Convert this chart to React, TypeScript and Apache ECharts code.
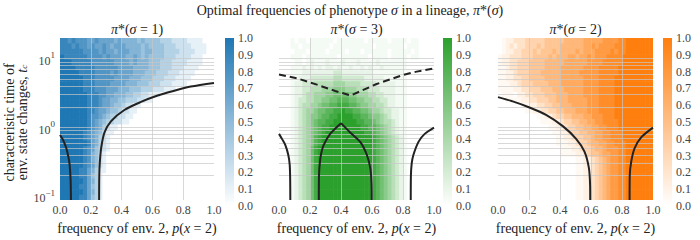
import React, { useEffect, useRef } from 'react';
import * as echarts from 'echarts';

const FONT = "'Liberation Serif', 'DejaVu Serif', serif";

// axis ranges / ticks
const P_MIN = 0;
const P_MAX = 1;
const P_STEP = 0.2;
const T_MIN = 0.0885;
const T_MAX = 20;
const CB_STEP = 0.1;
const GRID_P = [0.2, 0.4, 0.6, 0.8];
const GRID_T = [0.2, 0.3, 0.4, 0.5, 0.6, 0.7, 0.8, 0.9, 1, 2, 3, 4, 5, 6, 7, 8, 9, 10];
const N_COLS = 40;

const PANEL_SIGMA = ['1', '3', '2'];
const COLORS = ['#1f77b4', '#2ca02c', '#ff7f0e'];

// heat-map intensities, rows from top (t_c = 20) to bottom (t_c = 0.09); '.' = 0.05, digit d = d/9
const sigma1Rows = [
  '8878777667 6666565555 4544443332 2221111000',
  '8887877676 6765666555 5454444333 2222111100',
  '8888887777 6766566655 5455444333 3222211100',
  '9888888777 7676666556 5454444333 2222111000',
  '9998888877 7777666656 5554443332 2221111000',
  '9999888887 7777766665 5554443332 2211110000',
  '9999988887 7776766665 5544433322 2111100000',
  '9999998887 7777666655 5444333222 1111000000',
  '9999998887 7776666555 4443332221 1110000000',
  '9999998887 7766655544 4333222111',
  '9999999888 7766555443 3221110000',
  '9999999888 7665544333 2211',
  '9999999888 7665443221 1',
  '9999999887 6654432211',
  '9999999877 6543322110',
  '9999999876 54332211',
  '9999999876 53211',
  '9999998765 4211',
  '9999998765 321',
  '9999999865 321',
  '9999998764 321',
  '9999998754 21',
  '9999998754 21',
  '9999998764 21',
  '9999988653 11',
  '9999988643 1',
  '9999998653 1',
  '9999988643 1',
  '9999998653 1',
  '9999988643 1',
];

const sigma3Rows = [
  '000.0..0.. ....0..... ..0.....0. ...0..0000',
  '000..0.... ...0...... ....0..... ..0...0000',
  '0000...0.. ..0....0.. .0......0. ....0.0000',
  '000...0... .....0.... ...0....0. ...0..0000',
  '0000..0.1. ..1...1... 1....1.... ...0000000',
  '000...1.1. 1.11.1..1. .1.1..1... ...0000000',
  '000...1111 1111221111 1111...... ..00000000',
  '000..11122 2222332222 2211111... ...0000000',
  '000.112223 3333444333 3222211111 ...0000000',
  '000.112233 3444555444 3332221111 ...0000000',
  '000.112334 4455666655 4443322111 ...0000000',
  '000.122334 4556677766 5544332211 ...0000000',
  '000.123344 5667788877 6554433211 ...0000000',
  '000.123445 6677889887 7665443221 1..0000000',
  '000.123455 6778899998 8776554321 1..0000000',
  '000.123456 7788999999 8877654332 1..0000000',
  '000.123456 7889999999 9887765432 1..0000000',
  '000.123456 7899999999 9988765432 1..0000000',
  '000.123457 8999999999 9999876543 21.0000000',
  '000.123457 8999999999 9999876543 21.0000000',
  '000.123468 9999999999 9999876543 21.0000000',
  '000.123468 9999999999 9999876543 21.0000000',
  '000.123468 9999999999 9999876543 21.0000000',
  '000.123468 9999999999 9999876543 21.0000000',
  '000.123468 9999999999 9999876543 21.0000000',
  '000.123468 9999999999 9999876543 21.0000000',
  '000.123468 9999999999 9999876543 21.0000000',
  '000.123468 9999999999 9999876543 21.0000000',
  '000.123468 9999999999 9999876543 21.0000000',
  '000.123468 9999999999 9999876543 21.0000000',
];

const sigma2Rows = [
  '0.11222333 3344444555 5566666777 7889999999',
  '0.12122333 4344445555 5566767777 8889999999',
  '0.11223334 3444545555 6566677778 7889999999',
  '.112223334 4445455566 5667677788 8899999999',
  '.112233344 4455555666 6667777888 8899999999',
  '..12233344 4455556666 6677778888 8999999999',
  '..11233344 4555556666 6777778888 8999999999',
  '..11223344 4455556666 6677778888 9999999999',
  '...1123334 4445556666 6677778888 9999999999',
  '....112233 3444555666 6677778888 9999999999',
  '0...011223 3344455566 6677778888 9999999999',
  '00....1122 3334455566 6667778888 9999999999',
  '000000..11 2233445556 6667778888 9999999999',
  '0000000..1 1223344555 6667778888 9999999999',
  '0000000000 ..11233445 5566777888 9999999999',
  '0000000000 0...112334 4556677888 8999999999',
  '0000000000 000..11233 4455667788 8999999999',
  '0000000000 0000..1123 3445566778 8899999999',
  '0000000000 00000..112 3344566778 8899999999',
  '0000000000 00000...11 2334556677 8889999999',
  '0000000000 000000...1 1233455677 7889999999',
  '0000000000 000000.... 1123445667 7889999999',
  '0000000000 0000000000 ..11234567 7889999999',
  '0000000000 0000000000 ..11234567 7889999999',
  '0000000000 0000000000 ..11234567 7889999999',
  '0000000000 0000000000 ..11234567 7889999999',
  '0000000000 0000000000 ..11234567 7889999999',
  '0000000000 0000000000 ..11234567 7889999999',
  '0000000000 0000000000 ..11234567 7889999999',
  '0000000000 0000000000 ..11234567 7889999999',
];

// boundary curves [p, t_c]
const s1CurveLeft = [[0, 0.78], [0.02, 0.66], [0.041, 0.5], [0.055, 0.37], [0.0625, 0.29], [0.069, 0.171], [0.071, 0.0885]];
const s1CurveRight = [[0.254, 0.0885], [0.255, 0.2], [0.258, 0.3], [0.267, 0.5], [0.289, 0.85], [0.332, 1.24], [0.418, 1.8], [0.526, 2.36], [0.634, 2.92], [0.741, 3.42], [0.849, 3.94], [1.0, 4.45]];

const s3CurveLeft = [[0, 0.81], [0.02, 0.68], [0.041, 0.556], [0.06, 0.4], [0.069, 0.29], [0.072, 0.18], [0.073, 0.0885]];
const s3ArchLeft = [[0.257, 0.0885], [0.258, 0.2], [0.263, 0.3], [0.272, 0.42], [0.288, 0.556], [0.33, 0.81], [0.4, 1.16]];
const s3ArchRight = [[0.4, 1.16], [0.459, 0.85], [0.524, 0.62], [0.567, 0.4], [0.59, 0.25], [0.597, 0.15], [0.598, 0.0885]];
const s3CurveRight = [[0.85, 0.0885], [0.851, 0.2], [0.856, 0.3], [0.867, 0.4], [0.9, 0.62], [0.94, 0.81], [1.0, 1.0]];
const s3Dashed = [[0, 5.9], [0.116, 5.2], [0.245, 4.2], [0.363, 3.4], [0.463, 2.92], [0.544, 3.53], [0.63, 4.3], [0.716, 5.0], [0.8, 5.8], [0.888, 6.5], [1.0, 7.25]];

const s2CurveLeft = [[0, 2.77], [0.095, 2.4], [0.203, 1.96], [0.31, 1.53], [0.418, 1.05], [0.504, 0.687], [0.558, 0.448], [0.586, 0.262], [0.594, 0.15], [0.595, 0.0885]];
const s2CurveRight = [[0.849, 0.0885], [0.85, 0.2], [0.86, 0.325], [0.881, 0.5], [0.925, 0.726], [1.0, 1.0]];

const CURVES: { panel: number; data: number[][]; dashed?: boolean; smooth?: number }[] = [
  { panel: 0, data: s1CurveLeft, smooth: 0.3 },
  { panel: 0, data: s1CurveRight, smooth: 0.3 },
  { panel: 1, data: s3CurveLeft, smooth: 0.3 },
  { panel: 1, data: s3ArchLeft, smooth: 0.3 },
  { panel: 1, data: s3ArchRight, smooth: 0.3 },
  { panel: 1, data: s3CurveRight, smooth: 0.3 },
  { panel: 1, data: s3Dashed, dashed: true, smooth: 0 },
  { panel: 2, data: s2CurveLeft, smooth: 0.3 },
  { panel: 2, data: s2CurveRight, smooth: 0.3 },
];

// layout
const PLOT_LEFT = [60, 279, 498];
const PLOT_WIDTH = [154, 155, 155];
const PLOT_TOP = 38;
const PLOT_HEIGHT = 169;
const CB_LEFT = [225, 443, 663];
const CB_WIDTH = 9;

const LOG_SPAN = Math.log10(T_MAX) - Math.log10(T_MIN);

function cells(rows: string[]) {
  const out: number[][] = [];
  const n = rows.length;
  const dl = LOG_SPAN / n;
  rows.forEach((raw, i) => {
    const row = raw.replace(/ /g, '').padEnd(N_COLS, '0');
    const lt = Math.log10(T_MAX) - (i + 0.5) * dl;
    for (let c = 0; c < N_COLS; c++) {
      const ch = row[c];
      const v = ch === '.' ? 0.05 : Number(ch) / 9;
      out.push([(c + 0.5) / N_COLS, Math.pow(10, lt), v]);
    }
  });
  return out;
}

function heatRender(nRows: number) {
  return (params: any, api: any) => {
    const p = api.value(0);
    const t = api.value(1);
    const half = 0.5 / N_COLS;
    const lh = LOG_SPAN / nRows / 2;
    const lt = Math.log10(t);
    const a = api.coord([p - half, Math.pow(10, lt + lh)]);
    const b = api.coord([p + half, Math.pow(10, lt - lh)]);
    return {
      type: 'rect',
      shape: { x: a[0], y: a[1], width: b[0] - a[0] + 0.6, height: b[1] - a[1] + 0.6 },
      style: { fill: api.visual('color') },
    };
  };
}

const txt = (size: number, color: string, extra: any = {}) => ({ fontFamily: FONT, fontSize: size, color, fill: color, ...extra });

const TITLE_SIZE = 14;

function buildOption() {
  const rows = [sigma1Rows, sigma3Rows, sigma2Rows];
  const grid: any[] = [];
  const xAxis: any[] = [];
  const yAxis: any[] = [];
  const series: any[] = [];
  const visualMap: any[] = [];

  for (let k = 0; k < 3; k++) {
    grid.push({ left: PLOT_LEFT[k], top: PLOT_TOP, width: PLOT_WIDTH[k], height: PLOT_HEIGHT });
    xAxis.push({
      gridIndex: k, type: 'value', min: P_MIN, max: P_MAX, interval: P_STEP,
      axisLine: { show: false }, axisTick: { show: false }, splitLine: { show: false },
      axisLabel: { formatter: (v: number) => v.toFixed(1), ...txt(12, '#444'), margin: 4 },
      name: '{n|frequency of env. 2, }{i|p}{n|(}{i|x}{n| = 2)}',
      nameLocation: 'middle', nameGap: 16,
      nameTextStyle: {
        ...txt(TITLE_SIZE, '#222'),
        rich: { n: txt(TITLE_SIZE, '#222'), i: txt(TITLE_SIZE, '#222', { fontStyle: 'italic' }) },
      },
    });
    yAxis.push({
      gridIndex: k, type: 'log', logBase: 10, min: T_MIN, max: T_MAX,
      axisLine: { show: false }, axisTick: { show: false }, splitLine: { show: false },
      axisLabel: k === 0 ? {
        showMinLabel: false, showMaxLabel: false, margin: 5,
        formatter: (v: number) => {
          const l = Math.log10(v);
          const e = Math.round(l);
          if (Math.abs(l - e) > 1e-6) return '';
          return '{b|10}{s|' + (e < 0 ? '\u2212' + -e : String(e)) + '}';
        },
        rich: {
          b: txt(12, '#444', { lineHeight: 16, verticalAlign: 'bottom' }),
          s: txt(9, '#444', { lineHeight: 10, verticalAlign: 'top' }),
        },
      } : { show: false },
    });
  }
  for (let k = 0; k < 3; k++) {
    grid.push({ left: CB_LEFT[k], top: PLOT_TOP, width: CB_WIDTH, height: PLOT_HEIGHT - 1 });
    xAxis.push({ gridIndex: 3 + k, type: 'value', min: 0, max: 1, show: false });
    yAxis.push({
      gridIndex: 3 + k, type: 'value', min: 0, max: 1, interval: CB_STEP, position: 'right',
      axisLine: { show: false }, axisTick: { show: false }, splitLine: { show: false },
      axisLabel: { formatter: (v: number) => v.toFixed(1), ...txt(12, '#444'), margin: 4 },
    });
  }

  // heatmaps (series 0..2)
  for (let k = 0; k < 3; k++) {
    series.push({
      type: 'custom', xAxisIndex: k, yAxisIndex: k, data: cells(rows[k]),
      dimensions: ['p', 't', 'v'], encode: { x: 0, y: 1 },
      renderItem: heatRender(rows[k].length), clip: true, z: 1, silent: true,
    });
    visualMap.push({
      type: 'continuous', show: false, seriesIndex: k, dimension: 2, min: 0, max: 1,
      inRange: { color: ['#ffffff', COLORS[k]] },
    });
  }
  // grid lines drawn over heatmaps
  for (let k = 0; k < 3; k++) {
    series.push({
      type: 'line', xAxisIndex: k, yAxisIndex: k, data: [], z: 3, silent: true,
      markLine: {
        silent: true, symbol: ['none', 'none'], label: { show: false }, animation: false,
        lineStyle: { color: 'rgba(200,200,200,0.7)', width: 1, type: 'solid' },
        emphasis: { disabled: true },
        data: [...GRID_P.map((v) => ({ xAxis: v })), ...GRID_T.map((v) => ({ yAxis: v }))],
      },
    });
  }
  // boundary curves
  CURVES.forEach((c) => {
    series.push({
      type: 'line', xAxisIndex: c.panel, yAxisIndex: c.panel, data: c.data,
      showSymbol: false, symbol: 'none', smooth: c.smooth || false, clip: true, z: 5, silent: true,
      lineStyle: { color: '#222', width: 2, type: c.dashed ? [7, 4] : 'solid' },
    });
  });
  // colour bars
  for (let k = 0; k < 3; k++) {
    const col = COLORS[k];
    series.push({
      type: 'custom', xAxisIndex: 3 + k, yAxisIndex: 3 + k, data: [[0.5, 0.5]], silent: true,
      renderItem: (params: any, api: any) => {
        const a = api.coord([0, 1]);
        const b = api.coord([1, 0]);
        return {
          type: 'rect',
          shape: { x: a[0], y: a[1], width: b[0] - a[0], height: b[1] - a[1] },
          style: {
            fill: new echarts.graphic.LinearGradient(0, 0, 0, 1, [
              { offset: 0, color: col },
              { offset: 1, color: '#ffffff' },
            ]),
          },
        };
      },
    });
  }

  const italic = (s: number) => txt(s, '#222', { fontStyle: 'italic' });
  const graphic: any[] = [
    {
      type: 'text', x: 350, y: 10,
      style: {
        text: 'Optimal frequencies of phenotype {i|σ} in a lineage, {i|π}*({i|σ})',
        fontFamily: FONT, fontSize: TITLE_SIZE, fill: '#222', align: 'center', verticalAlign: 'middle',
        rich: { i: italic(TITLE_SIZE) },
      },
    },
    ...PANEL_SIGMA.map((s, k) => ({
      type: 'text', x: PLOT_LEFT[k] + PLOT_WIDTH[k] / 2, y: 29,
      style: {
        text: '{i|π}*({i|σ} = ' + s + ')',
        fontFamily: FONT, fontSize: TITLE_SIZE, fill: '#222', align: 'center', verticalAlign: 'middle',
        rich: { i: italic(TITLE_SIZE) },
      },
    })),
    {
      type: 'text', x: 15.5, y: PLOT_TOP + PLOT_HEIGHT / 2, rotation: Math.PI / 2,
      style: {
        text: 'characteristic time of\nenv. state changes, {i|t}{sub|c}',
        fontFamily: FONT, fontSize: TITLE_SIZE, fill: '#222', align: 'center', verticalAlign: 'middle', lineHeight: 13,
        rich: { i: italic(TITLE_SIZE), sub: txt(9, '#222', { fontStyle: 'italic', verticalAlign: 'bottom', lineHeight: 9 }) },
      },
    },
  ];

  return { animation: false, backgroundColor: '#ffffff', grid, xAxis, yAxis, series, visualMap, graphic };
}

export default function App() {
  const ref = useRef<HTMLDivElement>(null);
  useEffect(() => {
    document.body.style.margin = '0';
    const chart = echarts.init(ref.current!, null, { renderer: 'svg' });
    chart.setOption(buildOption() as any);
    return () => chart.dispose();
  }, []);
  return <div ref={ref} style={{ width: 700, height: 240 }} />;
}
